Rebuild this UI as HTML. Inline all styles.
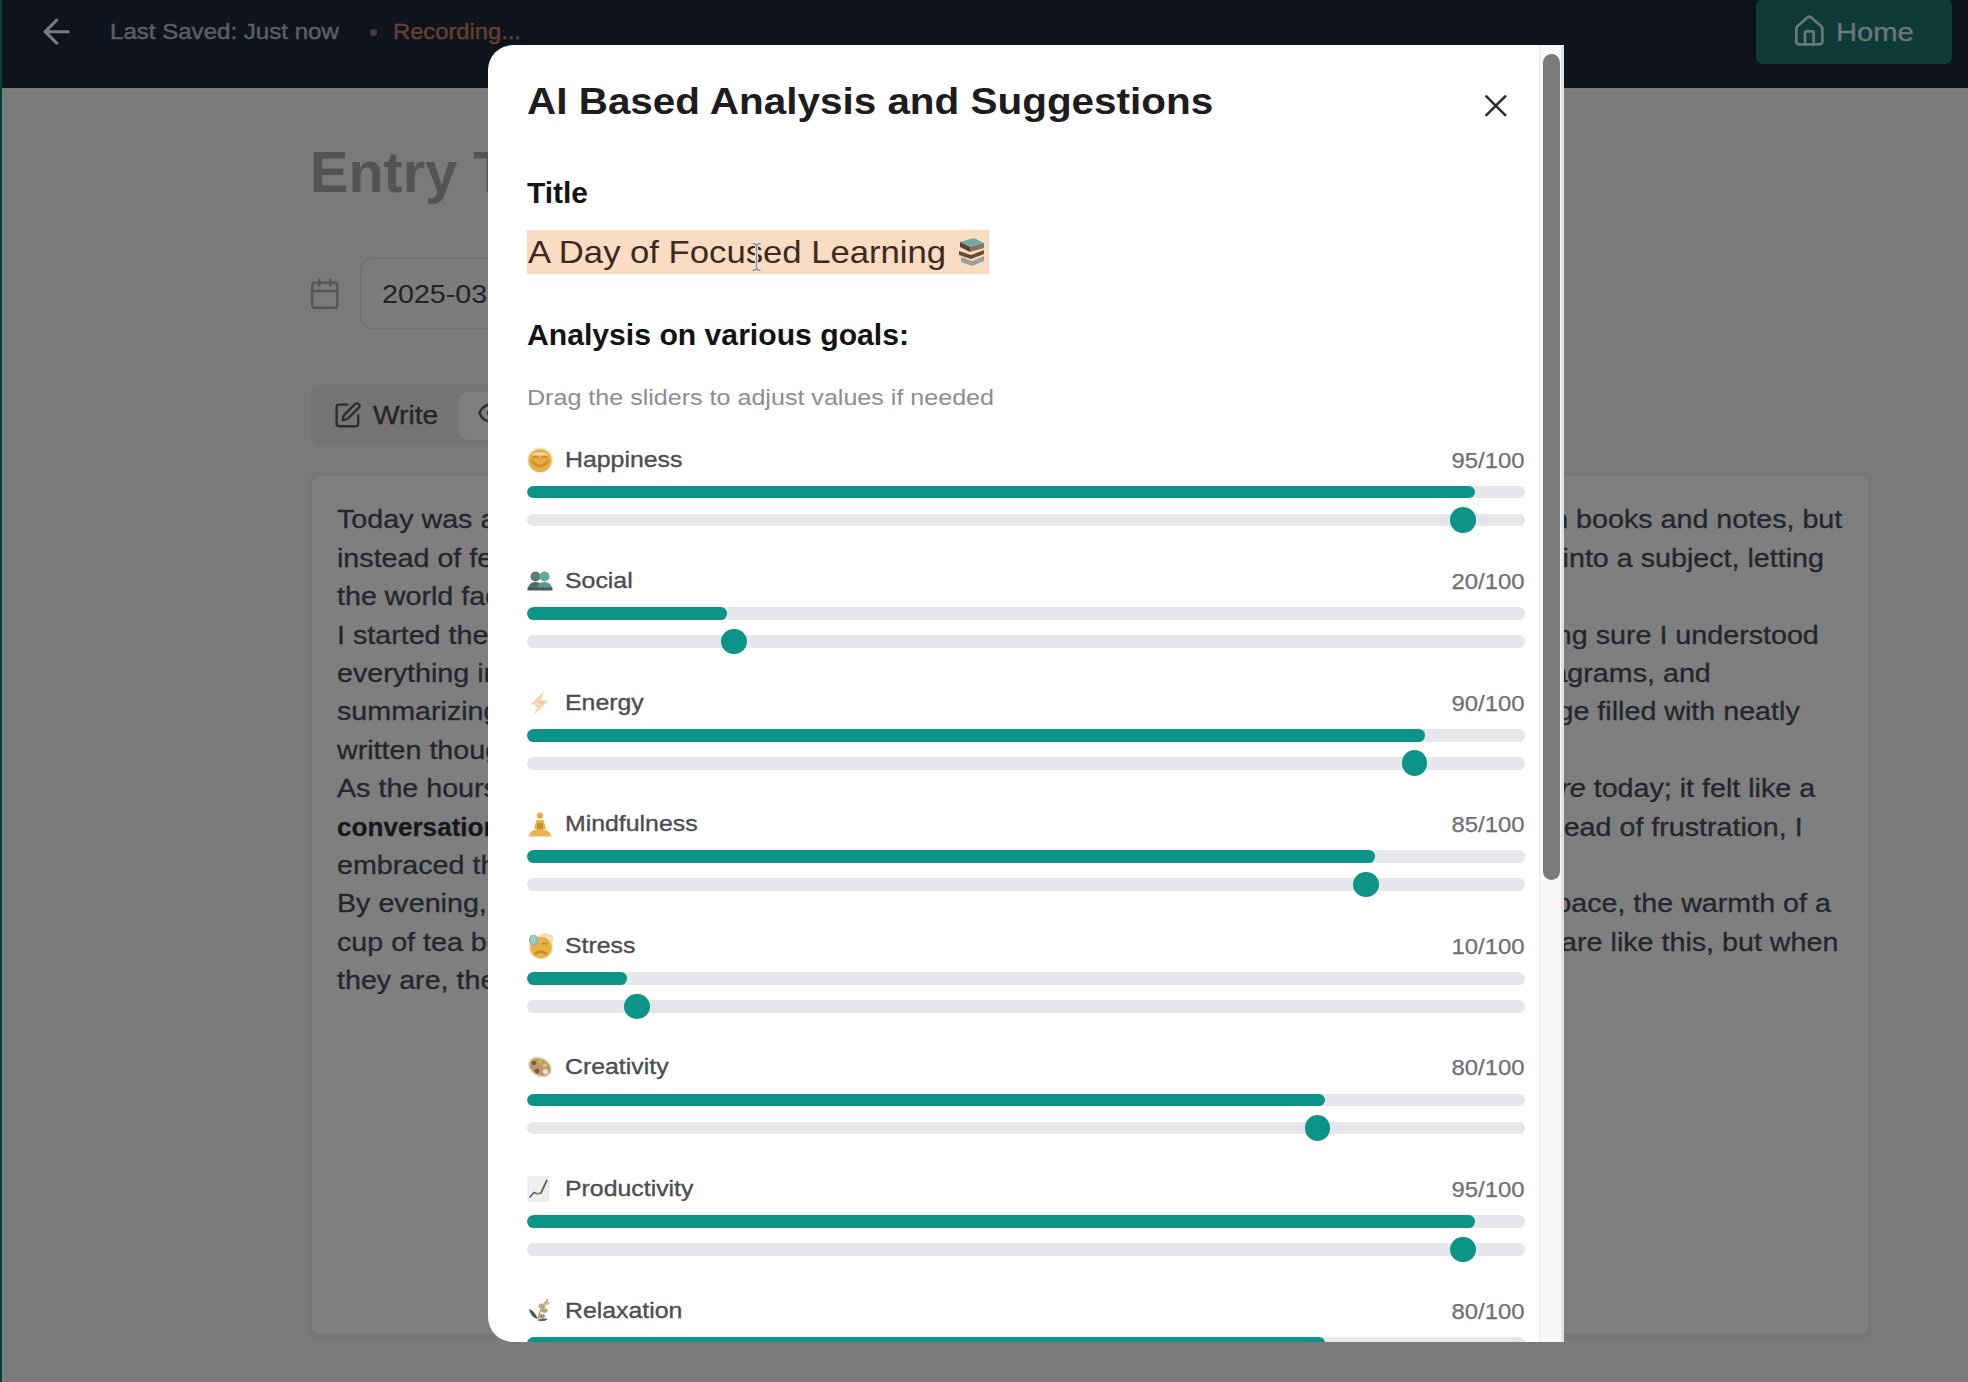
<!DOCTYPE html>
<html><head><meta charset="utf-8">
<style>
*{margin:0;padding:0;box-sizing:border-box}
html,body{width:1968px;height:1382px;overflow:hidden}
body{background:#7a7a7a;font-family:"Liberation Sans",sans-serif;position:relative}
.a{position:absolute}
.t{position:absolute;white-space:nowrap;line-height:1}
#topbar{left:0;top:0;width:1968px;height:88px;background:#0e131c}
#lstrip{left:0;top:0;width:2.2px;height:1382px;background:#083b36}
#lstrip2{left:2.2px;top:88px;width:2.6px;height:1294px;background:#6f817f}
.ln{font-size:25.6px;color:#24272c;-webkit-text-stroke:0.3px #24272c;transform-origin:left top;transform:scaleX(1.12)}
.rn{font-size:25.6px;color:#24272c;-webkit-text-stroke:0.3px #24272c;transform-origin:right top;transform:scaleX(1.12);text-align:right}
#modal{left:488px;top:45px;width:1076px;height:1297px;background:#fff;border-radius:25px 0 0 25px;overflow:hidden}
.lab{font-size:22.4px;color:#4d4d51;-webkit-text-stroke:0.35px #4d4d51;transform-origin:left top;transform:scaleX(1.11)}
.val{font-size:22.4px;color:#6f6f74;-webkit-text-stroke:0.25px #6f6f74;transform-origin:right top;transform:scaleX(1.066);text-align:right}
.bar{position:absolute;left:39px;width:997.6px;height:12.8px;border-radius:6.4px;background:#e5e7eb;overflow:hidden}
.fill{position:absolute;left:0;top:0;height:12.8px;border-radius:6.4px;background:#0d9488}
.thumb{position:absolute;width:25.6px;height:25.6px;border-radius:50%;background:#0d9488}
.emo{position:absolute;left:39px;width:26px;height:26px}
</style></head><body>
<!-- top bar -->
<div id="topbar" class="a"></div>
<div class="a" style="left:0;top:89.5px;width:1968px;height:2px;background:#7f7f7f"></div>
<div id="lstrip" class="a"></div>
<div id="lstrip2" class="a"></div>
<svg class="a" style="left:36.8px;top:11.8px" width="39.4" height="39.4" viewBox="0 0 24 24" fill="none" stroke="#7a7a7a" stroke-width="1.9" stroke-linecap="round" stroke-linejoin="round"><path d="m12 19-7-7 7-7"/><path d="M19 12H5"/></svg>
<div class="t" style="left:110px;top:21px;font-size:22.4px;color:#5b5e62;-webkit-text-stroke:0.5px #5b5e62;transform-origin:left top;transform:scaleX(1.075)">Last Saved: Just now</div>
<div class="a" style="left:369.5px;top:28.5px;width:7.5px;height:7.5px;border-radius:50%;background:#4d3b36"></div>
<div class="t" style="left:393px;top:21px;font-size:22.4px;color:#643f31;-webkit-text-stroke:0.5px #643f31;transform-origin:left top;transform:scaleX(1.06)">Recording...</div>
<div class="a" style="left:1756px;top:-1px;width:196px;height:64.7px;border-radius:7px;background:#0e3a38"></div>
<svg class="a" style="left:1791.7px;top:14.4px" width="34.7" height="34.7" viewBox="0 0 24 24" fill="none" stroke="#6b7877" stroke-width="1.9" stroke-linecap="round" stroke-linejoin="round"><path d="M15 21v-8a1 1 0 0 0-1-1h-4a1 1 0 0 0-1 1v8"/><path d="M3 10a2 2 0 0 1 .709-1.528l7-5.999a2 2 0 0 1 2.582 0l7 5.999A2 2 0 0 1 21 10v9a2 2 0 0 1-2 2H5a2 2 0 0 1-2-2z"/></svg>
<div class="t" style="left:1835.5px;top:19.5px;font-size:25.6px;color:#6b7877;-webkit-text-stroke:0.4px #6b7877;transform-origin:left top;transform:scaleX(1.14)">Home</div>

<!-- page behind -->
<div class="t" style="left:310px;top:143.7px;font-size:57.6px;font-weight:700;color:#545454">Entry Title</div>
<svg class="a" style="left:307.8px;top:277.2px" width="33.6" height="33.6" viewBox="0 0 24 24" fill="none" stroke="#565656" stroke-width="1.7" stroke-linecap="round" stroke-linejoin="round"><path d="M8 2v4"/><path d="M16 2v4"/><rect width="18" height="18" x="3" y="4" rx="2"/><path d="M3 10h18"/></svg>
<div class="a" style="left:360px;top:258px;width:400px;height:71px;border-radius:12px;border:1.5px solid #6e6e6e;background:#7c7c7c"></div>
<div class="t" style="left:382px;top:281.8px;font-size:25.6px;color:#232323;transform-origin:left top;transform:scaleX(1.12)">2025-03-12</div>
<div class="a" style="left:311px;top:384px;width:400px;height:63px;border-radius:10px;background:#757575"></div>
<div class="a" style="left:459px;top:392px;width:200px;height:48px;border-radius:8px;background:#7f7f7f"></div>
<svg class="a" style="left:333.1px;top:401.2px" width="28.8" height="28.8" viewBox="0 0 24 24" fill="none" stroke="#2e2e2e" stroke-width="2" stroke-linecap="round" stroke-linejoin="round"><path d="M12 3H5a2 2 0 0 0-2 2v14a2 2 0 0 0 2 2h14a2 2 0 0 0 2-2v-7"/><path d="M18.375 2.625a1 1 0 0 1 3 3l-9.013 9.014a2 2 0 0 1-.853.505l-2.873.84a.5.5 0 0 1-.62-.62l.84-2.873a2 2 0 0 1 .506-.852z"/></svg>
<div class="t" style="left:373px;top:402.6px;font-size:25.6px;color:#262626;-webkit-text-stroke:0.35px #262626;transform-origin:left top;transform:scaleX(1.1)">Write</div>
<svg class="a" style="left:476.5px;top:398.4px" width="30.0" height="30.0" viewBox="0 0 24 24" fill="none" stroke="#2e2e2e" stroke-width="2" stroke-linecap="round" stroke-linejoin="round"><path d="M2.062 12.348a1 1 0 0 1 0-.696 10.75 10.75 0 0 1 19.876 0 1 1 0 0 1 0 .696 10.75 10.75 0 0 1-19.876 0"/><circle cx="12" cy="12" r="3"/></svg>

<div class="a" style="left:308px;top:472px;width:1564px;height:866px;border-radius:11px;background:#7f7f7f;border:4px solid #767676"></div>
<div id="lines">
<div class="t ln" style="left:337px;top:507.3px">Today was a</div>
<div class="t rn" style="right:125.7px;top:507.3px">ng in books and notes, but</div>
<div class="t ln" style="left:337px;top:545.7px">instead of fee</div>
<div class="t rn" style="right:144.0px;top:545.7px">ng into a subject, letting</div>
<div class="t ln" style="left:337px;top:584.1px">the world fad</div>
<div class="t ln" style="left:337px;top:622.5px">I started the</div>
<div class="t rn" style="right:149.1px;top:622.5px">making sure I understood</div>
<div class="t ln" style="left:337px;top:660.9px">everything in</div>
<div class="t rn" style="right:257.6px;top:660.9px">ng diagrams, and</div>
<div class="t ln" style="left:337px;top:699.3px">summarizing</div>
<div class="t rn" style="right:168.2px;top:699.3px">page filled with neatly</div>
<div class="t ln" style="left:337px;top:737.7px">written thoug</div>
<div class="t ln" style="left:337px;top:776.1px">As the hours</div>
<div class="t rn" style="right:152.6px;top:776.1px"><i>more</i> today; it felt like a</div>
<div class="t ln" style="left:337px;top:814.5px;font-weight:700;color:#15171a;transform:scaleX(1.02)">conversation</div>
<div class="t rn" style="right:165.6px;top:814.5px">Instead of frustration, I</div>
<div class="t ln" style="left:337px;top:852.9px">embraced th</div>
<div class="t ln" style="left:337px;top:891.3px">By evening, I</div>
<div class="t rn" style="right:137.0px;top:891.3px">space, the warmth of a</div>
<div class="t ln" style="left:337px;top:929.7px">cup of tea be</div>
<div class="t rn" style="right:130.0px;top:929.7px">Not all days are like this, but when</div>
<div class="t ln" style="left:337px;top:968.1px">they are, the</div>
</div>

<!-- modal -->
<div id="modal" class="a">
<div class="t" style="left:39.0px;top:37.5px;font-size:37px;font-weight:700;color:#1c1c21;transform-origin:left top;transform:scaleX(1.093)">AI Based Analysis and Suggestions</div>
<svg class="a" style="left:989.4px;top:41.6px" width="37.6" height="37.6" viewBox="0 0 24 24" fill="none" stroke="#2f2f33" stroke-width="1.65" stroke-linecap="round"><path d="M18 6 6 18"/><path d="m6 6 12 12"/></svg>
<div class="t" style="left:39.0px;top:134.1px;font-size:28.8px;font-weight:700;color:#131316;transform-origin:left top;transform:scaleX(1.04)">Title</div>
<div class="a" style="left:39px;top:185px;width:462px;height:44px;background:#f9dcc1"></div>
<div class="t" style="left:40.0px;top:190.9px;font-size:32px;color:#3a2a22;transform-origin:left top;transform:scaleX(1.083)">A Day of Focused Learning</div>
<svg class="a" style="left:469px;top:191px" width="30" height="30" viewBox="0 0 30 30"><path d="M3 6l14-4 10 5-14 4z" fill="#6fa9a0"/><path d="M3 6l10 5v5L3 11z" fill="#5b3f30"/><path d="M13 11l14-4v5l-14 4z" fill="#8a7060"/><path d="M2 15l12 4 13-5v4l-13 5-12-4z" fill="#6a4a38"/><path d="M4 21l11 4 12-5v5l-12 5-11-4z" fill="#9aa0a0"/><path d="M14 18l13-5" stroke="#e9dcc0" stroke-width="1.2"/></svg>
<svg class="a" style="left:262px;top:197px" width="13" height="30" viewBox="0 0 13 30"><path d="M2.5 1.5q4 0 4 3v21q0 3 4 3M10.5 1.5q-4 0-4 3v21q0 3-4 3" fill="none" stroke="#f4f4f4" stroke-width="3.2"/><path d="M2.5 1.5q4 0 4 3v21q0 3 4 3M10.5 1.5q-4 0-4 3v21q0 3-4 3" fill="none" stroke="#8a8a8a" stroke-width="1.5"/></svg>
<div class="t" style="left:39.0px;top:275.6px;font-size:28.8px;font-weight:700;color:#131316;transform-origin:left top;transform:scaleX(1.047)">Analysis on various goals:</div>
<div class="t" style="left:38.5px;top:342.0px;font-size:22.4px;color:#8d8d92;transform-origin:left top;transform:scaleX(1.12)">Drag the sliders to adjust values if needed</div>
<svg class="emo" style="top:401.5px" width="26" height="26" viewBox="0 0 26 26"><circle cx="13" cy="13" r="12.6" fill="#fae0c8"/><circle cx="13" cy="13.6" r="11.4" fill="#e4b040"/><path d="M4.5 8.5a9 5 0 0 1 17 0" fill="#f6d5b4"/><path d="M6.5 10.5q2.2-2.4 4.4 0M15.1 10.5q2.2-2.4 4.4 0" stroke="#c68c24" stroke-width="1.8" fill="none" stroke-linecap="round"/><path d="M5.5 14.5q7.5 9 15 0" stroke="#cf9327" stroke-width="3" fill="none" stroke-linecap="round"/></svg>
<div class="t lab" style="left:76.5px;top:403.5px;font-size:22.4px;">Happiness</div>
<div class="t val" style="right:39.5px;top:404.5px">95/100</div>
<div class="bar" style="top:440.6px"><div class="fill" style="width:947.7px"></div></div>
<div class="bar" style="top:468.6px"></div>
<div class="thumb" style="left:962.4px;top:462.2px"></div>
<svg class="emo" style="top:523.1px" width="26" height="26" viewBox="0 0 26 26"><circle cx="8.5" cy="8.5" r="5" fill="#5a7a76"/><circle cx="17.5" cy="8.5" r="5" fill="#62a8a0"/><path d="M1 22q0-8 7.5-8q7.5 0 7.5 8z" fill="#4e6e6a"/><path d="M10 22q0-8 7.5-8q7.5 0 7.5 8z" fill="#5b9992"/><rect x="0.5" y="19.5" width="25" height="3" fill="#4f5757"/></svg>
<div class="t lab" style="left:76.5px;top:525.1px;font-size:22.4px;">Social</div>
<div class="t val" style="right:39.5px;top:526.1px">20/100</div>
<div class="bar" style="top:562.2px"><div class="fill" style="width:199.5px"></div></div>
<div class="bar" style="top:590.2px"></div>
<div class="thumb" style="left:233.4px;top:583.8px"></div>
<svg class="emo" style="top:644.7px" width="26" height="26" viewBox="0 0 26 26"><path d="M17.5 0.5L3.5 14.5h8l-5 11 15-15h-8l4-10z" fill="#f8d3ae"/><path d="M8 15l3 1M13 12l3 1" stroke="#d8b090" stroke-width="1.2"/></svg>
<div class="t lab" style="left:76.5px;top:646.7px;font-size:22.4px;">Energy</div>
<div class="t val" style="right:39.5px;top:647.7px">90/100</div>
<div class="bar" style="top:683.8px"><div class="fill" style="width:897.8px"></div></div>
<div class="bar" style="top:711.8px"></div>
<div class="thumb" style="left:913.8px;top:705.4px"></div>
<svg class="emo" style="top:766.2px" width="26" height="26" viewBox="0 0 26 26"><circle cx="13" cy="4.5" r="3.6" fill="#f2cfa9"/><circle cx="13" cy="4.7" r="2.6" fill="#e2ad40"/><path d="M9.5 9h7l2.5 9h-12z" fill="#e6b447"/><rect x="10" y="12" width="6" height="9" fill="#cc8b24"/><path d="M1.5 25q2-7 11.5-7t11.5 7z" fill="#e7b648"/><path d="M1 25.5h24" stroke="#f5d4b4" stroke-width="1.2"/></svg>
<div class="t lab" style="left:76.5px;top:768.3px;font-size:22.4px;">Mindfulness</div>
<div class="t val" style="right:39.5px;top:769.3px">85/100</div>
<div class="bar" style="top:805.3px"><div class="fill" style="width:848.0px"></div></div>
<div class="bar" style="top:833.3px"></div>
<div class="thumb" style="left:865.2px;top:826.9px"></div>
<svg class="emo" style="top:887.8px" width="26" height="26" viewBox="0 0 26 26"><circle cx="14" cy="14" r="12" fill="#fadfc6"/><circle cx="14" cy="14.6" r="10.8" fill="#e5b344"/><path d="M8 21q6-4.5 12 0" stroke="#c88d25" stroke-width="2.6" fill="none"/><path d="M15 11q3-1.5 5.5 0" stroke="#c88d25" stroke-width="1.8" fill="none"/><path d="M15 2a8 4 0 0 1 9 6" stroke="#f5d6b8" stroke-width="3" fill="none"/><ellipse cx="6.5" cy="7" rx="4.6" ry="5.5" fill="#9fa8a6"/><ellipse cx="6.5" cy="6.5" rx="3.4" ry="4.4" fill="#8fd0c8"/></svg>
<div class="t lab" style="left:76.5px;top:889.9px;font-size:22.4px;">Stress</div>
<div class="t val" style="right:39.5px;top:890.9px">10/100</div>
<div class="bar" style="top:926.9px"><div class="fill" style="width:99.8px"></div></div>
<div class="bar" style="top:954.9px"></div>
<div class="thumb" style="left:136.2px;top:948.5px"></div>
<svg class="emo" style="top:1009.4px" width="26" height="26" viewBox="0 0 26 26"><ellipse cx="13" cy="13" rx="12.5" ry="9.5" transform="rotate(30 13 13)" fill="#f4d2b2"/><ellipse cx="13" cy="13" rx="11" ry="8" transform="rotate(30 13 13)" fill="#b99a6c"/><circle cx="7" cy="9" r="2.2" fill="#6e5a45"/><circle cx="13" cy="7.5" r="2.2" fill="#dcae4a"/><circle cx="18" cy="11.5" r="2" fill="#e8c27a"/><circle cx="10" cy="17" r="2.4" fill="#7c5a3c"/><circle cx="18.5" cy="17.5" r="2.6" fill="#f0e2c8"/></svg>
<div class="t lab" style="left:76.5px;top:1011.4px;font-size:22.4px;">Creativity</div>
<div class="t val" style="right:39.5px;top:1012.4px">80/100</div>
<div class="bar" style="top:1048.5px"><div class="fill" style="width:798.1px"></div></div>
<div class="bar" style="top:1076.5px"></div>
<div class="thumb" style="left:816.6px;top:1070.1px"></div>
<svg class="emo" style="top:1131.0px" width="26" height="26" viewBox="0 0 26 26"><rect x="0.5" y="0.5" width="21.5" height="25" fill="#e2e3e3"/><rect x="1.5" y="1.5" width="19.5" height="23" fill="#eef0f0"/><path d="M2.5 21.5l4.5-5 3.5 1.5 3.5-1 6-13" stroke="#5f6463" stroke-width="1.8" fill="none" stroke-linejoin="round"/><circle cx="11" cy="17.5" r="1.2" fill="#e0a050"/></svg>
<div class="t lab" style="left:76.5px;top:1133.0px;font-size:22.4px;">Productivity</div>
<div class="t val" style="right:39.5px;top:1134.0px">95/100</div>
<div class="bar" style="top:1170.1px"><div class="fill" style="width:947.7px"></div></div>
<div class="bar" style="top:1198.1px"></div>
<div class="thumb" style="left:962.4px;top:1191.7px"></div>
<svg class="emo" style="top:1252.6px" width="26" height="26" viewBox="0 0 26 26"><path d="M2 11q5 1 9 10q-7-1-9-10z" fill="#4a5755"/><path d="M10 22q5-3 11-1q-5 4-11 1z" fill="#5a6664"/><path d="M11 21q2-11 10-20" stroke="#9aa3a1" stroke-width="1.4" fill="none"/><ellipse cx="15" cy="8" rx="3.5" ry="2.6" fill="#c9aa7a"/><ellipse cx="19.5" cy="5" rx="2.6" ry="2" fill="#d2b484"/><ellipse cx="17.5" cy="12.5" rx="3.2" ry="2.2" fill="#bfa072"/><ellipse cx="15" cy="18" rx="3" ry="2" fill="#b59468"/><circle cx="16" cy="9" r="0.9" fill="#58b3aa"/></svg>
<div class="t lab" style="left:76.5px;top:1254.6px;font-size:22.4px;">Relaxation</div>
<div class="t val" style="right:39.5px;top:1255.6px">80/100</div>
<div class="bar" style="top:1291.7px"><div class="fill" style="width:798.1px"></div></div>
<div class="bar" style="top:1319.7px"></div>
<div class="thumb" style="left:816.6px;top:1313.3px"></div>
<div class="a" style="left:1050.5px;top:0;width:25.5px;height:1297px;background:#f8f8f8;border-left:1.5px solid #ebebeb;border-right:3px solid #e2e2e2"></div>
<div class="a" style="left:1054.5px;top:8.700000000000003px;width:17.4px;height:826.3px;border-radius:9px;background:#7b7b7b"></div>
</div>
</body></html>
